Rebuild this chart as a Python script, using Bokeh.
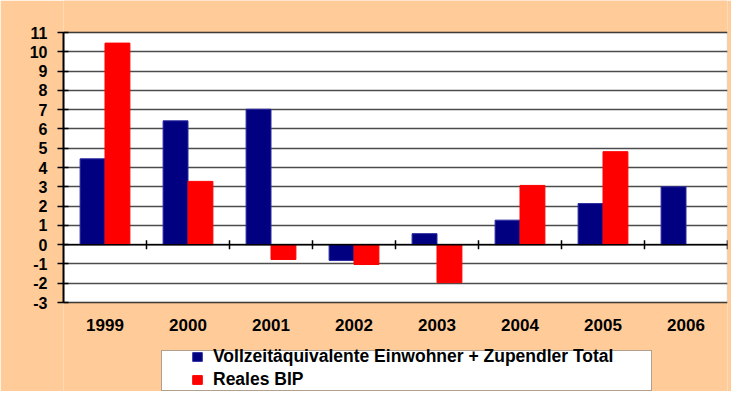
from bokeh.plotting import figure
from bokeh.models import (FixedTicker, Legend, LegendItem, BoxAnnotation, Range1d,
                          Span, ColumnDataSource)
from bokeh.core.properties import value
from bokeh.embed import file_html
from bokeh.resources import INLINE

years = ["1999", "2000", "2001", "2002", "2003", "2004", "2005", "2006"]
vollzeit = [4.45, 6.42, 7.02, -0.82, 0.57, 1.27, 2.13, 3.0]
bip = [10.45, 3.28, -0.77, -1.03, -1.97, 3.07, 4.82, float("nan")]
y_ticks = list(range(-3, 12))
label_v = "Vollzeitäquivalente Einwohner + Zupendler Total"
label_b = "Reales BIP"

FONT = "Liberation Sans"
ORANGE = "#FFCC99"
W, H = 731, 391
LEFT, RIGHT = 63, 727          # plot area, canvas px
TOP, BOTTOM = 32, 302
YMIN, YMAX = y_ticks[0], y_ticks[-1]
pxu = (BOTTOM - TOP) / (YMAX - YMIN)
y_hi = YMAX + TOP / pxu
y_lo = YMIN - (H - BOTTOM) / pxu
n = len(years)
pxx = (RIGHT - LEFT) / n


def ydata(py):
    return y_hi - py / pxu


def xdata(px):
    return -0.5 + (px - LEFT) / pxx


p = figure(width=W, height=H, output_backend="svg", toolbar_location=None,
           x_range=Range1d(-0.5, n - 0.5), y_range=Range1d(y_lo, y_hi),
           x_axis_type=None,
           min_border_left=LEFT, min_border_right=W - RIGHT, min_border_top=0,
           min_border_bottom=0)
p.border_fill_color = ORANGE
p.background_fill_color = ORANGE
p.outline_line_color = None

# white plot area with grey border
p.add_layout(BoxAnnotation(top=YMAX, bottom=YMIN, fill_color="white", fill_alpha=1,
                           line_color="#808080", line_width=1.5, level="image"))

p.xgrid.visible = False
p.ygrid.ticker = FixedTicker(ticks=y_ticks)
p.ygrid.grid_line_color = "black"
p.ygrid.grid_line_alpha = 0.7
p.ygrid.grid_line_width = 1.5

ya = p.yaxis[0]
ya.ticker = FixedTicker(ticks=y_ticks)
ya.bounds = (YMIN, YMAX)
ya.major_label_overrides = {t: str(t) for t in y_ticks}
ya.axis_line_color = "black"
ya.axis_line_width = 2
ya.major_tick_in = 5
ya.major_tick_out = 6
ya.major_tick_line_color = "black"
ya.major_tick_line_width = 1.5
ya.minor_tick_line_color = None
ya.major_label_standoff = 10
ya.major_label_text_font = FONT
ya.major_label_text_font_style = "bold"
ya.major_label_text_font_size = "16px"
ya.major_label_text_color = "black"

p.add_layout(Span(location=0, dimension="width", line_color="black", line_width=1.5))

bx = [i + 0.5 for i in range(n)]
tick_half = 4.5 / pxu
p.segment(x0=bx, x1=bx, y0=[-tick_half] * n, y1=[tick_half] * n,
          line_color="black", line_width=1.5)

idx = list(range(n))
src_v = ColumnDataSource(dict(x=[i - 0.15 for i in idx], top=vollzeit))
src_b = ColumnDataSource(dict(x=[i + 0.15 for i in idx], top=bip))
r1 = p.vbar(x="x", top="top", bottom=0, width=0.3, source=src_v,
            fill_color="#000080", line_color="#2a2aa0", line_width=1)
r2 = p.vbar(x="x", top="top", bottom=0, width=0.3, source=src_b,
            fill_color="#FF0000", line_color="#FF0000", line_width=1)

# category labels under the plot area
src_lab = ColumnDataSource(dict(x=idx, y=[YMIN] * n, text=years))
p.text(x="x", y="y", text="text", source=src_lab, y_offset=22,
       text_align="center", text_baseline="middle",
       text_font=value(FONT), text_font_style="bold", text_font_size="17px",
       text_color="black")

# legend box
LG_L, LG_R, LG_T, LG_B = 161, 651, 350, 390
p.add_layout(BoxAnnotation(left=xdata(LG_L), right=xdata(LG_R),
                           top=ydata(LG_T), bottom=ydata(LG_B),
                           fill_color="white", fill_alpha=1,
                           line_color="black", line_width=1))

legend = Legend(items=[LegendItem(label=label_v, renderers=[r1]),
                       LegendItem(label=label_b, renderers=[r2])],
                location=(191 - LEFT, H - LG_B), padding=0, margin=0, spacing=2,
                glyph_width=12, glyph_height=11, label_standoff=10,
                label_height=19, border_line_alpha=0, background_fill_alpha=0,
                label_text_font=FONT, label_text_font_style="bold",
                label_text_font_size="17.5px", label_text_color="black")
p.add_layout(legend)

open("out.html", "w").write(file_html(p, INLINE))
